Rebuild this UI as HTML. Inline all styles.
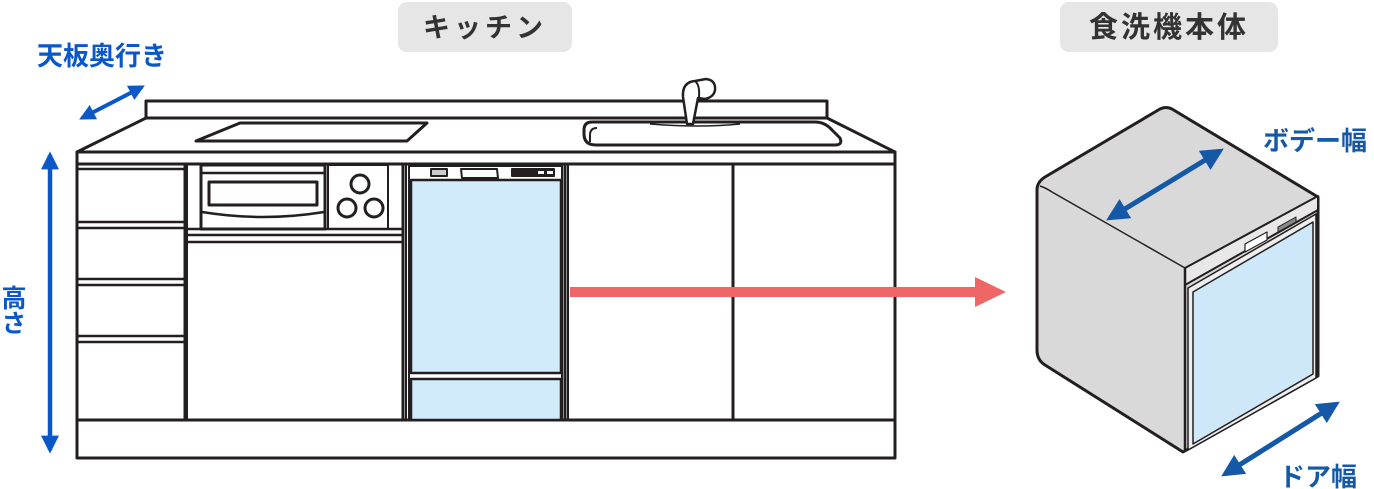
<!DOCTYPE html>
<html><head><meta charset="utf-8"><style>
html,body{margin:0;padding:0;background:#fff;width:1374px;height:489px;overflow:hidden}
svg{display:block}
text{font-family:"Liberation Sans","Noto Sans CJK JP",sans-serif;font-weight:bold}
</style></head><body>
<svg width="1374" height="489" viewBox="0 0 1374 489" xmlns="http://www.w3.org/2000/svg">
<defs>
<marker id="bh" viewBox="0 0 10 10" refX="8" refY="5" markerWidth="4" markerHeight="4" orient="auto-start-reverse"><path d="M0,0L10,5L0,10z" fill="#0a58c8"/></marker>
<marker id="bh2" viewBox="0 0 10 10" refX="8" refY="5" markerWidth="4.5" markerHeight="4.5" orient="auto-start-reverse"><path d="M0,0L10,5L0,10z" fill="#1559a6"/></marker>
</defs>
<!-- pills -->
<rect x="398" y="2" width="174" height="50" rx="9" fill="#e6e6e6"/>
<text x="485" y="37" font-size="27" fill="#333" text-anchor="middle" letter-spacing="4">キッチン</text>
<rect x="1060" y="2" width="218" height="50" rx="9" fill="#e6e6e6"/>
<text x="1169" y="37" font-size="29" fill="#333" text-anchor="middle" letter-spacing="3">食洗機本体</text>
<!-- blue labels -->
<text x="37" y="65" font-size="26" fill="#0a58c8">天板奥行き</text>
<text x="1263" y="150" font-size="26" fill="#1559a6">ボデー幅</text>
<text x="1279" y="486" font-size="26" fill="#1559a6">ドア幅</text>
<text x="12" y="285" font-size="25" fill="#0a58c8" style="writing-mode:vertical-rl">高さ</text>
<!-- blue arrows -->
<line x1="82" y1="118" x2="142" y2="87" stroke="#0a58c8" stroke-width="4" marker-start="url(#bh)" marker-end="url(#bh)"/>
<line x1="50" y1="155" x2="50" y2="450" stroke="#0a58c8" stroke-width="4.5" marker-start="url(#bh)" marker-end="url(#bh)"/>
<!-- kitchen -->
<g fill="#fff" stroke="#231f20" stroke-width="3" stroke-linejoin="round">
<rect x="146" y="101" width="681" height="17"/>
<path d="M77,152 L146,118 L827,118 L895,152 Z"/>
<path d="M196,141 L240,123 L427,123 L407,141 Z"/>
<path d="M592,122 L815,122 Q825,122 832,130 L840,138 Q843,145 835,145 L596,145 Q584,145 584,134 L584,130 Q584,122 592,122 Z"/>
<path d="M597,128 Q590,128 590,135 L590,142" fill="none" stroke-width="2"/>
<path d="M650,124 Q700,128 740,124" fill="none" stroke-width="1.5"/>
<path d="M687,124 L683,97 Q682,82 695,81 L706,79 Q716,80 715,90 Q714,97 705,99 L698,98 L693,124 Z" stroke-width="2.5"/>
<path d="M695,81 Q700,85 699,97" fill="none" stroke-width="2"/>
<rect x="77" y="152" width="818" height="12"/>
<rect x="77" y="164" width="818" height="256"/>
<rect x="77" y="420" width="818" height="38"/>
<!-- drawers -->
<path d="M77,169 H185 M77,222 H185 M77,228 H185 M77,279 H185 M77,285 H185 M77,336 H185 M77,342 H185" fill="none" stroke-width="2.5"/>
<line x1="185" y1="164" x2="185" y2="420"/>
<line x1="187" y1="164" x2="187" y2="420" stroke-width="2"/>
<!-- oven -->
<rect x="201" y="165" width="124" height="64"/>
<rect x="209" y="182" width="108" height="23"/>
<path d="M201,173 H325 M202,212 Q263,222 324,212" fill="none" stroke-width="2.5"/>
<rect x="328" y="165" width="60" height="64" stroke-width="2"/>
<circle cx="360" cy="184" r="9"/><circle cx="347" cy="208" r="9"/><circle cx="374" cy="208" r="9"/>
<path d="M187,229 H403 M187,235 H403 M187,242 H403" fill="none" stroke-width="2.5"/>
<line x1="403" y1="164" x2="403" y2="420"/>
<line x1="406" y1="164" x2="406" y2="420" stroke-width="2"/>
<!-- dishwasher -->
<rect x="409" y="166" width="153" height="254" stroke-width="2"/>
<rect x="411" y="180" width="150" height="193" fill="#d2ebfb" stroke-width="2.5"/>
<rect x="411" y="379" width="150" height="41" fill="#d2ebfb" stroke-width="2.5"/>
<rect x="431" y="169" width="16" height="7" fill="#ccc" stroke-width="2"/>
<path d="M461,169 H497 L498,178 H462 Z" stroke-width="2"/>
<rect x="512" y="169" width="42" height="7" fill="#231f20" stroke-width="2"/>
<line x1="565" y1="164" x2="565" y2="420"/>
<line x1="568" y1="164" x2="568" y2="420" stroke-width="2"/>
<line x1="733" y1="164" x2="733" y2="420"/>
</g>
<rect x="538" y="171" width="6" height="3" fill="#fff"/><rect x="547" y="171" width="6" height="3" fill="#fff"/>
<!-- red arrow -->
<rect x="570" y="287" width="408" height="10" fill="#ee6666"/>
<path d="M975,277 L1006,292 L975,307 Z" fill="#ee6666"/>
<!-- dishwasher body -->
<g stroke="#231f20" stroke-linejoin="round">
<path d="M1045,177 L1160,109 Q1166,106 1172,109 L1318,197 L1318,376 L1183,452 L1045,365 Q1037,360 1037,350 L1037,190 Q1037,182 1045,177 Z" fill="#d9d9d9" stroke-width="3"/>
<path d="M1040,186 Q1046,188 1052,192 L1185,268" fill="none" stroke-width="1.5"/>
<path d="M1185,268 L1318,196 L1318,210 L1185,285 Z" fill="#e8e8e8" stroke-width="2"/>
<path d="M1185,268 L1185,450" fill="none" stroke-width="2.5"/>
<path d="M1188,288 L1316,214 L1316,378 L1188,450 Z" fill="#eee" stroke-width="1.5"/>
<path d="M1193,292 L1313,222 L1313,374 L1193,444 Z" fill="#cfe8f9" stroke-width="1.5"/>
<path d="M1245,244 L1267,232 L1267,240 L1245,252 Z" fill="#fff" stroke-width="1.2"/>
<path d="M1278,227 L1296,217 L1296,222 L1278,232 Z" fill="#888" stroke-width="1"/>
</g>
<line x1="1110" y1="218" x2="1220" y2="151" stroke="#1559a6" stroke-width="5" marker-start="url(#bh2)" marker-end="url(#bh2)"/>
<line x1="1225" y1="474" x2="1336" y2="404" stroke="#1559a6" stroke-width="5" marker-start="url(#bh2)" marker-end="url(#bh2)"/>
</svg>
</body></html>
